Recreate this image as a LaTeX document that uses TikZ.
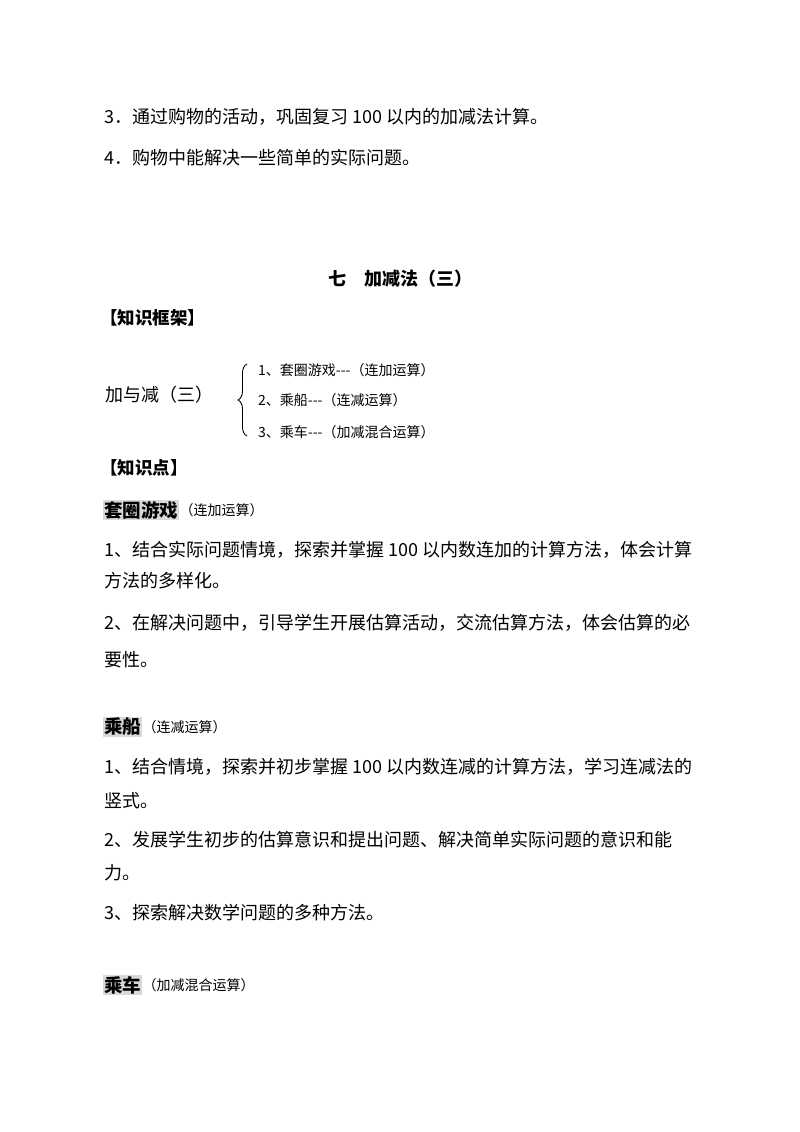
\documentclass[tikz,border=0pt]{standalone}
\usepackage{fontspec}
\setmainfont{Liberation Serif}
\newfontfamily\cjk{Noto Sans CJK SC}
\usetikzlibrary{decorations.pathreplacing}
\begin{document}
\begin{tikzpicture}[x=1pt,y=-1pt,
  txt/.style={anchor=west,inner sep=0pt,font=\cjk\fontsize{18}{20}\selectfont},
  sm/.style={anchor=west,inner sep=0pt,font=\cjk\fontsize{14}{16}\selectfont},
  hd/.style={anchor=west,inner sep=0pt,font=\cjk\bfseries\fontsize{17.5}{20}\selectfont},
  hl/.style={anchor=west,inner sep=1pt,fill=black!15,font=\cjk\bfseries\fontsize{18.5}{20}\selectfont}]
\useasboundingbox[fill=white] (0,0) rectangle (800,1132);
\node[txt] (l1) at (104,117) {3．通过购物的活动，巩固复习 100 以内的加减法计算。};
\node[txt] (l2) at (104,158) {4．购物中能解决一些简单的实际问题。};
\node[anchor=center,font=\cjk\bfseries\fontsize{18}{20}\selectfont] (t) at (400,279) {七\quad 加减法（三）};
\node[hd] (kj) at (100,318) {【知识框架】};
\node[txt] (root) at (105,395) {加与减（三）};
\draw[line width=0.9pt,decorate,decoration={brace,amplitude=9pt}] (247,436) -- (247,364);
\node[sm] (a1) at (258,370) {1、套圈游戏---（连加运算）};
\node[sm] (a2) at (258,400) {2、乘船---（连减运算）};
\node[sm] (a3) at (258,432) {3、乘车---（加减混合运算）};
\node[hd] (zs) at (100,468) {【知识点】};
\node[hl] (h1) at (103,510) {套圈游戏};
\node[sm] (h1s) at (h1.east) {（连加运算）};
\node[txt] (p1) at (104,550) {1、结合实际问题情境，探索并掌握 100 以内数连加的计算方法，体会计算};
\node[txt] (p2) at (104,581) {方法的多样化。};
\node[txt] (p3) at (104,623) {2、在解决问题中，引导学生开展估算活动，交流估算方法，体会估算的必};
\node[txt] (p4) at (104,660) {要性。};
\node[hl] (h2) at (103,727) {乘船};
\node[sm] (h2s) at (h2.east) {（连减运算）};
\node[txt] (q1) at (104,767) {1、结合情境，探索并初步掌握 100 以内数连减的计算方法，学习连减法的};
\node[txt] (q2) at (104,801) {竖式。};
\node[txt] (q3) at (104,840) {2、发展学生初步的估算意识和提出问题、解决简单实际问题的意识和能};
\node[txt] (q4) at (104,873) {力。};
\node[txt] (q5) at (104,913) {3、探索解决数学问题的多种方法。};
\node[hl] (h3) at (103,985) {乘车};
\node[sm] (h3s) at (h3.east) {（加减混合运算）};
\end{tikzpicture}
\end{document}
